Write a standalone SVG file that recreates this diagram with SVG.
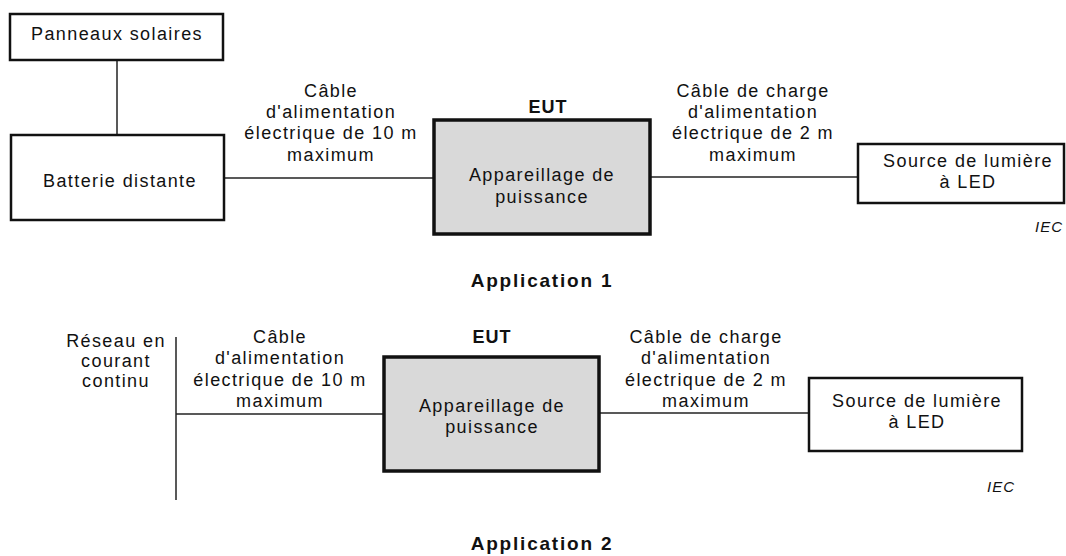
<svg xmlns="http://www.w3.org/2000/svg" width="1066" height="556" viewBox="0 0 1066 556">
<style>
  text { font-family: "Liberation Sans", Arial, sans-serif; fill: #111; }
  .t { font-size: 18px; letter-spacing: 1.4px; text-anchor: middle; }
  .b { font-size: 18px; font-weight: bold; letter-spacing: 1px; text-anchor: middle; }
  .h { font-size: 19px; font-weight: bold; letter-spacing: 1.8px; text-anchor: middle; }
  .iec { font-size: 15px; font-style: italic; letter-spacing: 1px; text-anchor: middle; }
  .box { fill: #fff; stroke: #111; stroke-width: 2.5; }
  .eut { fill: #d9d9d9; stroke: #111; stroke-width: 3.5; }
  .wire { stroke: #222; stroke-width: 1.5; fill: none; }
</style>
<rect width="1066" height="556" fill="#fff"/>

<g id="connectors">
  <line class="wire" x1="117" y1="60" x2="117" y2="135"/>
  <line class="wire" x1="224" y1="178" x2="434" y2="178"/>
  <line class="wire" x1="650" y1="177" x2="858" y2="177"/>
  <line class="wire" x1="176" y1="337" x2="176" y2="500"/>
  <line class="wire" x1="176" y1="414" x2="384" y2="414"/>
  <line class="wire" x1="599" y1="413" x2="809" y2="413"/>
</g>

<g id="panneaux">
  <rect class="box" x="10" y="14" width="213" height="46"/>
  <text class="t" x="117" y="40">Panneaux solaires</text>
</g>
<g id="batterie">
  <rect class="box" x="11" y="135" width="213" height="85"/>
  <text class="t" x="120" y="187">Batterie distante</text>
</g>
<g id="cable1-label">
  <text class="t" x="331" y="97">Câble</text>
  <text class="t" x="331" y="118">d'alimentation</text>
  <text class="t" x="331" y="139">électrique de 10 m</text>
  <text class="t" x="331" y="161">maximum</text>
</g>
<g id="eut1">
  <text class="b" x="548" y="113">EUT</text>
  <rect class="eut" x="434" y="120" width="216" height="114"/>
  <text class="t" x="542" y="181">Appareillage de</text>
  <text class="t" x="542" y="203">puissance</text>
</g>
<g id="cable2-label">
  <text class="t" x="753" y="97">Câble de charge</text>
  <text class="t" x="753" y="118">d'alimentation</text>
  <text class="t" x="753" y="139">électrique de 2 m</text>
  <text class="t" x="753" y="161">maximum</text>
</g>
<g id="led1">
  <rect class="box" x="858" y="144" width="206" height="59"/>
  <text class="t" x="968" y="167">Source de lumière</text>
  <text class="t" x="968" y="188">à LED</text>
</g>
<text class="iec" x="1049" y="232">IEC</text>
<text class="h" x="542" y="287">Application 1</text>

<g id="reseau">
  <text class="t" x="116" y="347">Réseau en</text>
  <text class="t" x="116" y="367">courant</text>
  <text class="t" x="116" y="387">continu</text>
</g>
<g id="cable3-label">
  <text class="t" x="280" y="343">Câble</text>
  <text class="t" x="280" y="364">d'alimentation</text>
  <text class="t" x="280" y="386">électrique de 10 m</text>
  <text class="t" x="280" y="407">maximum</text>
</g>
<g id="eut2">
  <text class="b" x="492" y="343">EUT</text>
  <rect class="eut" x="384" y="357" width="215" height="114"/>
  <text class="t" x="492" y="412">Appareillage de</text>
  <text class="t" x="492" y="433">puissance</text>
</g>
<g id="cable4-label">
  <text class="t" x="706" y="343">Câble de charge</text>
  <text class="t" x="706" y="364">d'alimentation</text>
  <text class="t" x="706" y="386">électrique de 2 m</text>
  <text class="t" x="706" y="407">maximum</text>
</g>
<g id="led2">
  <rect class="box" x="809" y="378" width="213" height="73"/>
  <text class="t" x="917" y="407">Source de lumière</text>
  <text class="t" x="917" y="428">à LED</text>
</g>
<text class="iec" x="1001" y="492">IEC</text>
<text class="h" x="542" y="550">Application 2</text>
</svg>
